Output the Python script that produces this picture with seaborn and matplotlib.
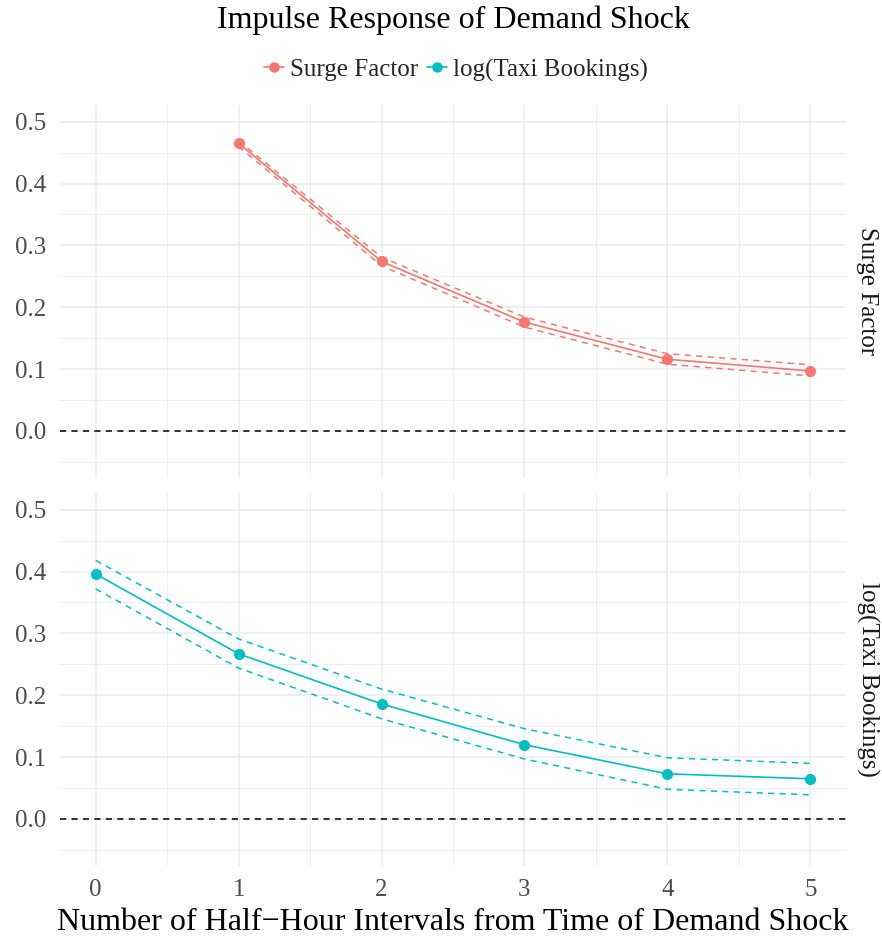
import numpy as np
import pandas as pd
import matplotlib
matplotlib.use("Agg")
import matplotlib.pyplot as plt
from matplotlib.lines import Line2D
import seaborn as sns

# ---- data ----
steps = [0, 1, 2, 3, 4, 5]
surge_est = [np.nan, 0.465, 0.274, 0.176, 0.116, 0.097]
surge_lo = [np.nan, 0.460, 0.267, 0.168, 0.108, 0.089]
surge_hi = [np.nan, 0.469, 0.281, 0.184, 0.125, 0.107]
taxi_est = [0.396, 0.267, 0.186, 0.120, 0.073, 0.065]
taxi_lo = [0.372, 0.244, 0.162, 0.097, 0.048, 0.039]
taxi_hi = [0.418, 0.291, 0.210, 0.146, 0.099, 0.090]
series_names = ["Surge Factor", "log(Taxi Bookings)"]
colors = ["#F8766D", "#00BFC4"]
y_ticks = [0.0, 0.1, 0.2, 0.3, 0.4, 0.5]
x_ticks = [0, 1, 2, 3, 4, 5]

sns.set_theme(style="white")
plt.rcParams["font.family"] = ["Liberation Serif", "DejaVu Serif"]
plt.rcParams["axes.unicode_minus"] = True

W, H = 882, 941
fig = plt.figure(figsize=(W / 100, H / 100), dpi=100)

def ax_rect(left, top, right, bottom):
    return [left / W, 1 - bottom / H, (right - left) / W, (bottom - top) / H]

ax1 = fig.add_axes(ax_rect(60, 105, 846, 478))
ax2 = fig.add_axes(ax_rect(60, 493, 846, 866))

data = [
    (ax1, surge_est, surge_lo, surge_hi, colors[0], series_names[0]),
    (ax2, taxi_est, taxi_lo, taxi_hi, colors[1], series_names[1]),
]

grid_col = "#ebebeb"
for ax, est, lo, hi, col, name in data:
    df = pd.DataFrame({"step": steps, "est": est, "lo": lo, "hi": hi}).dropna()
    ax.set_facecolor("white")
    # grid
    for v in np.arange(-0.5, 5.6, 0.5):
        lw = 1.1 if float(v).is_integer() else 0.6
        ax.axvline(v, color=grid_col, lw=lw, zorder=0)
    for v in np.arange(-0.05, 0.55, 0.05):
        major = abs(round(v / 0.1) * 0.1 - v) < 1e-9
        ax.axhline(v, color=grid_col, lw=1.1 if major else 0.6, zorder=0)
    ax.axhline(0, color="black", lw=1.1, linestyle=(0, (4, 3.5)), zorder=1)
    sns.lineplot(data=df, x="step", y="lo", ax=ax, color=col, lw=1.1,
                 linestyle=(0, (4, 3.5)), zorder=2)
    sns.lineplot(data=df, x="step", y="hi", ax=ax, color=col, lw=1.1,
                 linestyle=(0, (4, 3.5)), zorder=2)
    sns.lineplot(data=df, x="step", y="est", ax=ax, color=col, lw=1.2,
                 marker="o", markersize=8, markeredgewidth=0, zorder=3)
    ax.set_xlim(-0.25, 5.25)
    ax.set_ylim(-0.076, 0.527)
    ax.set_yticks(y_ticks)
    ax.set_yticklabels([f"{t:.1f}" for t in y_ticks])
    ax.set_xticks(x_ticks)
    ax.set_xlabel("")
    ax.set_ylabel("")
    for s in ax.spines.values():
        s.set_visible(False)
    ax.tick_params(axis="both", length=0, labelsize=18, colors="#4d4d4d")
    ax.tick_params(axis="y", pad=10)
    ax.tick_params(axis="x", pad=9)
    ax.text(1.027, 0.5, name, transform=ax.transAxes, rotation=270,
            ha="center", va="center", fontsize=18, color="#1a1a1a")

ax1.set_xticklabels([])
ax2.set_xticklabels([str(t) for t in x_ticks])

cx = 453 / W
fig.text(cx, 1 - 20 / H, "Impulse Response of Demand Shock", ha="center",
         va="center", fontsize=23, color="black")
fig.text(cx, 1 - 922 / H, "Number of Half\u2212Hour Intervals from Time of Demand Shock",
         ha="center", va="center", fontsize=23, color="black")

handles = [Line2D([], [], color=c, marker="o", lw=1.2, markersize=7.5, markeredgewidth=0)
           for c in colors]
fig.legend(handles, series_names, loc="center", bbox_to_anchor=(cx + 3 / W, 1 - 70 / H),
           ncol=2, frameon=False, fontsize=18, handlelength=0.8, handletextpad=0.25,
           columnspacing=0.35)

fig.savefig("out.png", dpi=100)
